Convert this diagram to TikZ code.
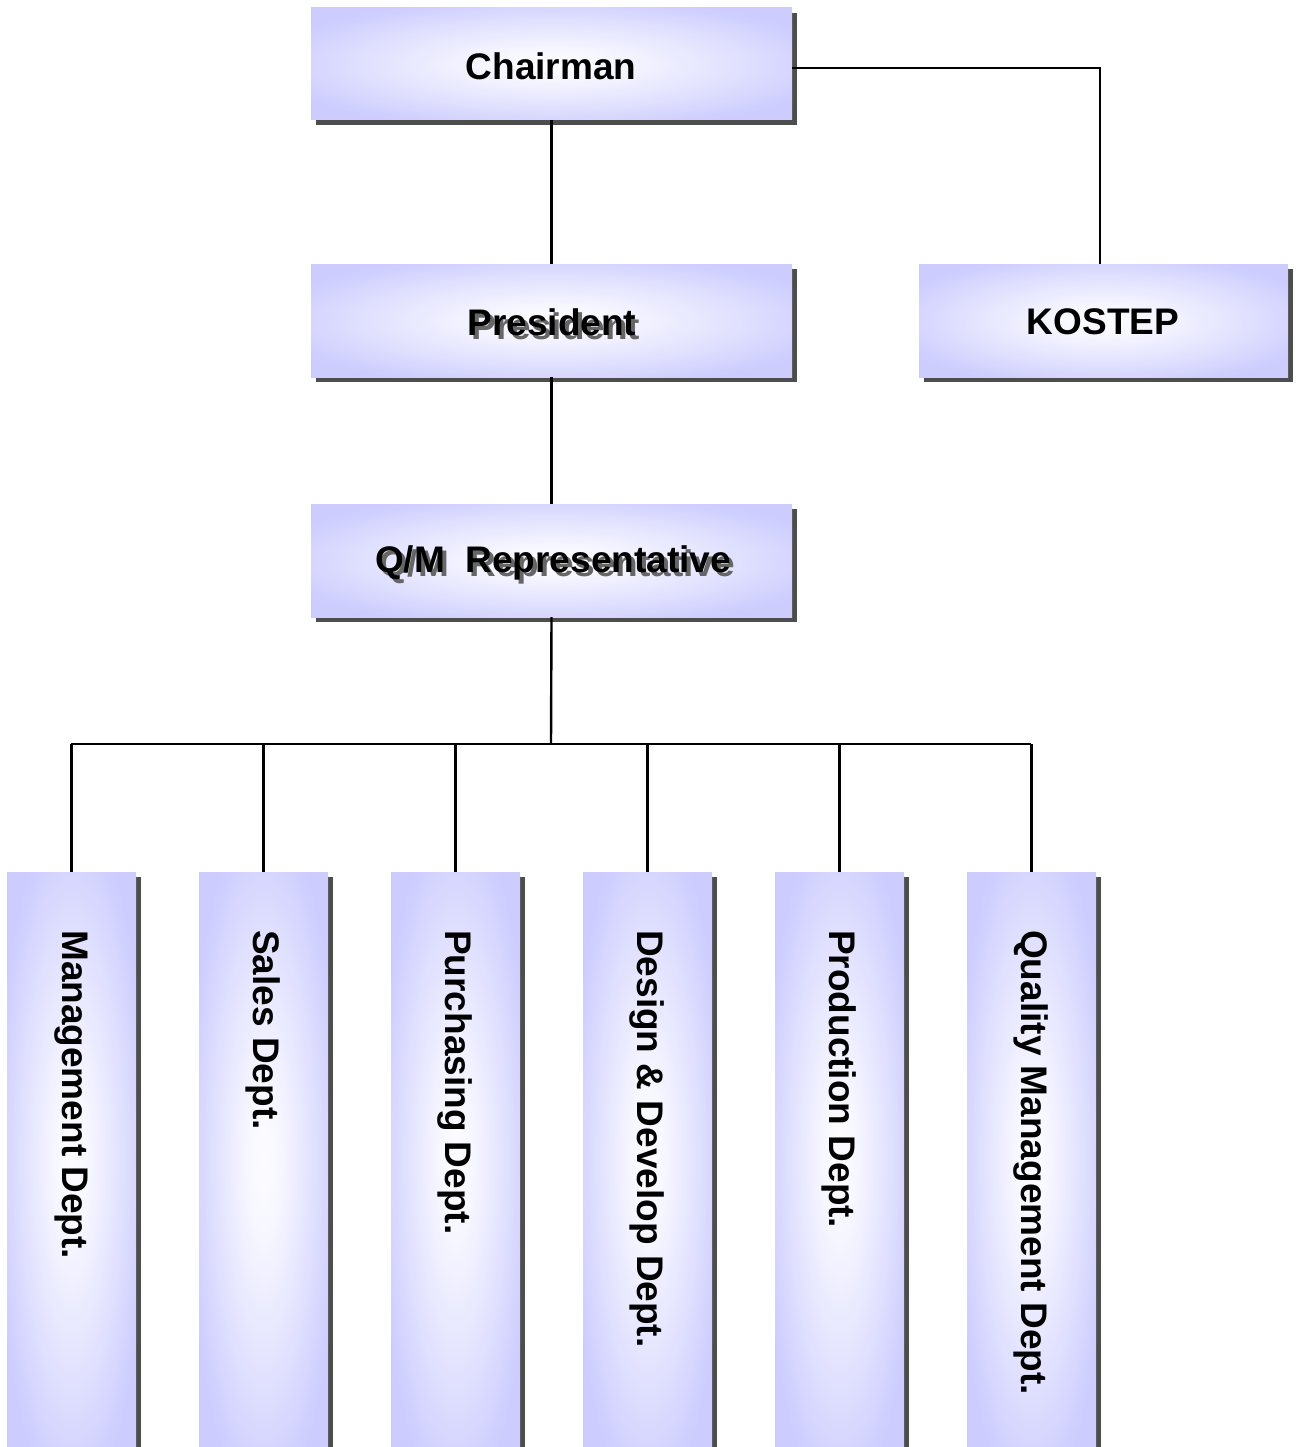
\documentclass[tikz,border=0pt]{standalone}
\usepackage{fontspec}
\setmainfont{Liberation Sans}
\definecolor{boxblue}{HTML}{CCCCFF}
\definecolor{shadowgray}{HTML}{4D4D4D}
\definecolor{textshadow}{HTML}{666666}
\pgfdeclareradialshading{boxglow}{\pgfpoint{0bp}{0bp}}{%
  color(0bp)=(white!95!boxblue);
  color(7bp)=(white!82!boxblue);
  color(18bp)=(white!45!boxblue);
  color(30bp)=(boxblue);
  color(50bp)=(boxblue)}
\tikzset{
  x=1pt, y=-1pt,
  orgtext/.style={font=\fontsize{37}{40}\selectfont\bfseries, inner sep=0pt},
  conn/.style={line width=2.4pt, black},
}
\newcommand{\orgbox}[5]{% name, x1, y1, x2, y2
  \fill[shadowgray] (#2+5,#3+5) rectangle (#4+5,#5+5);
  \shade[shading=boxglow] (#2,#3) rectangle (#4,#5);
  \coordinate (#1) at ({(#2+#4)/2},{(#3+#5)/2});
  \coordinate (#1-top) at ({(#2+#4)/2},#3);
  \coordinate (#1-bot) at ({(#2+#4)/2},#5);
  \coordinate (#1-right) at (#4,{(#3+#5)/2});
}
\begin{document}
\begin{tikzpicture}
\useasboundingbox (0,0) rectangle (1299,1447);
\fill[white] (0,0) rectangle (1299,1447);

\coordinate (kostepcorner) at (1100,68);
\coordinate (busL) at (71,744);
\coordinate (busR) at (1031,744);
\coordinate (busM) at (551,744);

\orgbox{chair}{311}{8}{792}{120}
\orgbox{pres}{311}{264}{792}{377}
\orgbox{kostep}{919}{264}{1288}{377}
\orgbox{qm}{311}{504}{792}{617}
\orgbox{d1}{7}{872}{136}{1447}
\orgbox{d2}{199}{872}{328}{1447}
\orgbox{d3}{391}{872}{520}{1447}
\orgbox{d4}{583}{872}{712}{1447}
\orgbox{d5}{775}{872}{904}{1447}
\orgbox{d6}{967}{872}{1096}{1447}

\draw[conn] (chair-bot) -- (pres-top);
\draw[conn] (792,68) -- (kostepcorner) -- (kostep-top -| kostepcorner);
\draw[conn] (pres-bot) -- (qm-top);
\draw[conn] (qm-bot) -- (busM);
\draw[conn] (busL) -- (busR);
\foreach \d in {d1,d2,d3,d4,d5,d6}{
  \draw[conn] (busL -| \d-top) -- (\d-top);
}

\node[orgtext] (tchair) at (551,66) {Chairman};
\node[orgtext, text=textshadow] at (556,326) {President};
\node[orgtext] (tpres) at (552,322) {President};
\node[orgtext] (tkostep) at (1103,322) {KOSTEP};
\node[orgtext, text=textshadow] at (557,567) {Q/M\ \ Representative};
\node[orgtext] (tqm) at (553,563) {Q/M\ \ Representative};

\node[orgtext, rotate=-90, anchor=west] (t1) at (71,930) {Management Dept.};
\node[orgtext, rotate=-90, anchor=west] (t2) at (263,930) {Sales Dept.};
\node[orgtext, rotate=-90, anchor=west] (t3) at (455,930) {Purchasing Dept.};
\node[orgtext, rotate=-90, anchor=west] (t4) at (647,930) {Design \& Develop Dept.};
\node[orgtext, rotate=-90, anchor=west] (t5) at (839,930) {Production Dept.};
\node[orgtext, rotate=-90, anchor=west] (t6) at (1031,930) {Quality Management Dept.};
\end{tikzpicture}
\end{document}
